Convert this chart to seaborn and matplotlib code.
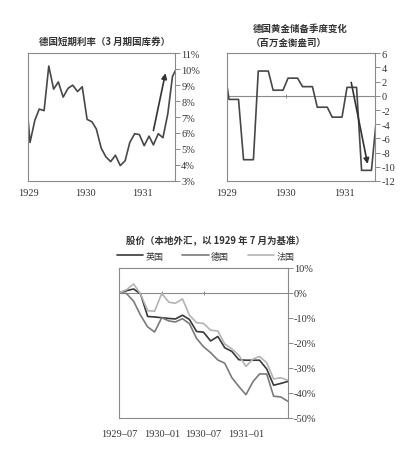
"""
1929-1931 德国利率 / 黄金储备 / 股价 三联图
"""
import pandas as pd
import numpy as np
import matplotlib
matplotlib.use('Agg')
import matplotlib.pyplot as plt
from matplotlib.ticker import FuncFormatter, MultipleLocator
import seaborn as sns

sns.set_theme(style='white')
plt.rcParams['font.family'] = ['Liberation Serif', 'Noto Sans CJK SC']
plt.rcParams['axes.unicode_minus'] = False

CJK = ['Noto Sans CJK SC', 'DejaVu Sans']

# === 数据 ===
# 德国短期利率 (3 月期国库券, %), 月度
rate_months = pd.period_range('1928-12', '1931-08', freq='M')
rate_values = [9.1, 5.4, 6.8, 7.5, 7.4, 10.2, 8.75, 9.2, 8.25, 8.8, 9.0, 8.6,
               8.9, 6.85, 6.7, 6.25, 5.05, 4.5, 4.2, 4.6, 3.95, 4.25, 5.4,
               5.95, 5.9, 5.2, 5.8, 5.25, 5.95, 5.7, 7.2, 9.55, 10.15]

# 德国黄金储备季度变化 (百万金衡盎司), 按月展开
gold_months = pd.period_range('1928-12', '1931-07', freq='M')
gold_values = [4.3,
               -0.5, -0.5, -0.5, -9.0, -9.0, -9.0, 3.5, 3.5, 3.5, 0.8, 0.8, 0.8,
               2.5, 2.5, 2.5, 1.3, 1.3, 1.3, -1.6, -1.6, -1.6, -3.0, -3.0, -3.0,
               1.2, 1.2, 1.2, -10.5, -10.5, -10.5,
               -3.4]

# 股价 (本地外汇, 1929-07 = 0, %)
stock_months = pd.period_range('1929-07', '1931-07', freq='M')
uk_values = [0, 0.8, 1.5, -0.5, -9.5, -9.7, -10.0, -10.3, -10.5, -9.0, -10.7,
             -15.5, -15.8, -19.3, -17.5, -22.0, -23.5, -26.8, -27.0, -27.0,
             -27.0, -30.5, -37.0, -36.3, -35.5]
de_values = [0, -0.3, -3.4, -9.0, -13.7, -15.7, -10.0, -11.3, -11.7, -10.4,
             -12.4, -18.3, -21.6, -24.0, -26.9, -28.2, -34.0, -37.5, -40.8,
             -35.5, -32.5, -32.5, -41.4, -41.7, -43.4]
fr_values = [0, 1.2, 3.5, -0.5, -7.2, -7.4, -0.3, -3.8, -4.2, -2.5, -9.0,
             -12.0, -12.3, -15.0, -15.3, -20.5, -22.5, -25.0, -29.5, -26.5,
             -25.5, -28.0, -34.5, -34.0, -35.0]
countries = ['英国', '德国', '法国']

rate_df = pd.DataFrame({'date': rate_months.to_timestamp() + pd.Timedelta(days=11),
                        'value': rate_values})
gold_df = pd.DataFrame({'date': gold_months.to_timestamp() + pd.Timedelta(days=14),
                        'value': gold_values})
stock_dates = stock_months.to_timestamp()
stock_df = pd.concat([
    pd.DataFrame({'date': stock_dates, 'value': vals, 'country': name})
    for name, vals in zip(countries, [uk_values, de_values, fr_values])
])

# === 그림 ===
fig = plt.figure(figsize=(4.13, 4.56), dpi=100)
ax1 = fig.add_axes([0.0685, 0.6015, 0.3552, 0.2794])
ax2 = fig.add_axes([0.549, 0.6009, 0.359, 0.280])
ax3 = fig.add_axes([0.2889, 0.0818, 0.4077, 0.3289])

line_c = '#474747'
frame_c = '#8a8a8a'
text_c = '#333333'


def style_axes(ax, xpad, xtick_len=0):
    for sp in ax.spines.values():
        sp.set_visible(True)
        sp.set_color(frame_c)
        sp.set_linewidth(0.8)
    ax.yaxis.tick_right()
    ax.tick_params(axis='y', length=3.5, width=0.7, color=frame_c, pad=1,
                   labelsize=7.5, labelcolor=text_c)
    ax.tick_params(axis='x', direction='in', length=xtick_len, width=0.7,
                   color=frame_c, pad=xpad, labelsize=7.5, labelcolor=text_c)
    ax.set_xlabel('')
    ax.set_ylabel('')
    ax.grid(False)


def zero_ticks(ax, frac, ticks):
    # 零线上的小刻度
    sec = ax.secondary_xaxis(frac)
    sec.set_xticks(ticks)
    sec.set_xticklabels([''] * len(ticks))
    sec.tick_params(direction='inout', length=3, width=0.7, color=frame_c)
    sec.spines['bottom'].set_visible(False)
    sec.spines['top'].set_visible(False)


# 1. 德国短期利率
year_ticks = pd.to_datetime(['1929-01-01', '1930-01-01', '1931-01-01'])
sns.lineplot(data=rate_df, x='date', y='value', ax=ax1, color=line_c, lw=1.2)
ax1.set_xlim(pd.Timestamp('1929-01-01'), pd.Timestamp('1931-07-28'))
ax1.set_ylim(3, 11)
ax1.yaxis.set_major_locator(MultipleLocator(1))
ax1.yaxis.set_major_formatter(FuncFormatter(lambda v, p: f'{v:.0f}%'))
ax1.set_xticks(year_ticks)
ax1.set_xticklabels(['1929', '1930', '1931'])
style_axes(ax1, 5, xtick_len=3)
ax1.annotate('', xy=(pd.Timestamp('1931-05-28'), 9.75),
             xytext=(pd.Timestamp('1931-03-12'), 6.15),
             arrowprops=dict(arrowstyle='-|>', color='#333333', lw=1.2,
                             mutation_scale=8, shrinkA=0, shrinkB=0))

# 2. 德国黄金储备季度变化
sns.lineplot(data=gold_df, x='date', y='value', ax=ax2, color=line_c, lw=1.2)
ax2.axhline(0, color=frame_c, lw=0.8, zorder=0)
ax2.set_xlim(pd.Timestamp('1929-01-01'), pd.Timestamp('1931-07-07'))
ax2.set_ylim(-12, 6)
ax2.yaxis.set_major_locator(MultipleLocator(2))
ax2.yaxis.set_major_formatter(FuncFormatter(lambda v, p: f'{v:.0f}'))
ax2.set_xticks(year_ticks)
ax2.set_xticklabels(['1929', '1930', '1931'])
style_axes(ax2, 5)
zero_ticks(ax2, 12 / 18, year_ticks[1:2])
ax2.annotate('', xy=(pd.Timestamp('1931-05-22'), -9.6),
             xytext=(pd.Timestamp('1931-02-10'), 1.9),
             arrowprops=dict(arrowstyle='-|>', color='#333333', lw=1.2,
                             mutation_scale=8, shrinkA=0, shrinkB=0))

# 3. 股价
palette = {'英国': '#383838', '德国': '#7a7a7a', '法国': '#b3b3b3'}
sns.lineplot(data=stock_df, x='date', y='value', hue='country',
             hue_order=countries, palette=palette, ax=ax3, lw=1.2)
ax3.axhline(0, color=frame_c, lw=0.8, zorder=0)
ax3.set_xlim(pd.Timestamp('1929-07-01'), pd.Timestamp('1931-07-01'))
ax3.set_ylim(-50, 10)
ax3.yaxis.set_major_locator(MultipleLocator(10))
ax3.yaxis.set_major_formatter(FuncFormatter(lambda v, p: f'{v:.0f}%'))
half_ticks = pd.to_datetime(['1929-07-01', '1930-01-01', '1930-07-01', '1931-01-01'])
ax3.set_xticks(half_ticks)
ax3.set_xticklabels(['1929–07', '1930–01', '1930–07', '1931–01'])
style_axes(ax3, 8)
zero_ticks(ax3, 50 / 60, half_ticks[1:3])
sns.move_legend(ax3, loc='center left', bbox_to_anchor=(-0.014, 1.078),
                ncol=3, frameon=False, title=None, borderpad=0,
                borderaxespad=0, handlelength=2.9, handletextpad=0.25,
                columnspacing=2.1, prop={'family': CJK, 'size': 6.5})
for t in ax3.get_legend().get_texts():
    t.set_color(text_c)

# 标题
title_kw = dict(family=CJK, fontsize=6.8, weight='bold', color=text_c, va='center')
fig.text(105 / 413, 1 - 42 / 456, '德国短期利率（3 月期国库券）', ha='center', **title_kw)
fig.text(253 / 413, 1 - 29 / 456, '德国黄金储备季度变化', ha='left', **title_kw)
fig.text(251 / 413, 1 - 43 / 456, '（百万金衡盎司）', ha='left', **title_kw)
fig.text(126 / 413, 1 - 241 / 456, '股价（本地外汇，以 1929 年 7 月为基准）',
         ha='left', **title_kw)

fig.savefig('out.png', dpi=100)
